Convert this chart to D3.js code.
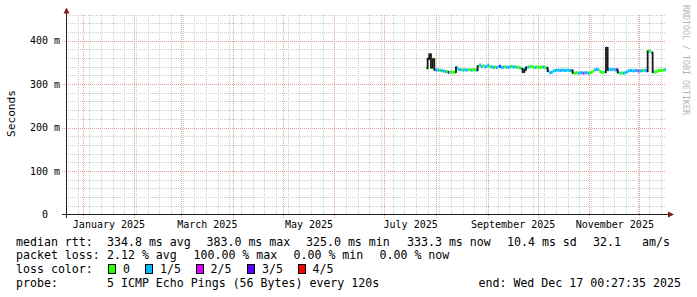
<!DOCTYPE html>
<html>
<head>
<meta charset="utf-8">
<script src="https://cdn.jsdelivr.net/npm/d3@7"></script>
<style>
body { margin: 0; background: #fff; }
text { font-family: "DejaVu Sans Mono", monospace; }
</style>
</head>
<body>
<script>
var w = 697, h = 297;

// time span of the graph
var endTime = new Date(Date.UTC(2025, 11, 17, 0, 27, 35));
var spanDays = 360;
var firstSample = "2025-07-26";

// daily median rtt (ms), one value per day from firstSample
var medianMs = [
	337, 358, 368, 338, 357, 333, 333, 332, 332, 331,
	330, 329, 329, 327, 328, 328, 327, 328, 338, 334,
	333, 333, 332, 333, 332, 333, 333, 332, 333, 333,
	332, 341, 344, 340, 342, 339, 341, 343, 339, 340,
	338, 339, 338, 340, 341, 338, 339, 340, 339, 338,
	340, 341, 339, 340, 338, 339, 337, 335, 328, 333,
	338, 339, 340, 341, 339, 338, 339, 339, 338, 339,
	339, 338, 337, 330, 326, 327, 330, 331, 332, 332,
	331, 332, 332, 331, 332, 332, 331, 331, 326, 325,
	326, 325, 326, 326, 325, 326, 326, 325, 326, 327,
	330, 333, 334, 333, 329, 327, 327, 328, 383, 333,
	334, 333, 334, 333, 333, 327, 325, 326, 325, 326,
	328, 330, 331, 331, 330, 331, 331, 330, 330, 331,
	331, 332, 330, 375, 376, 372, 328, 328, 329, 331,
	331, 332, 332, 333
];

// loss level per day (index into lossColors)
var lossIdx = [
	0, 1, 1, 0, 0, 1, 1, 1, 0, 1,
	1, 1, 0, 3, 0, 0, 0, 0, 1, 1,
	1, 0, 1, 1, 1, 0, 0, 1, 0, 0,
	1, 0, 1, 1, 0, 1, 1, 1, 0, 1,
	1, 0, 1, 1, 3, 1, 1, 0, 1, 1,
	1, 0, 1, 1, 0, 0, 1, 0, 0, 1,
	1, 1, 0, 0, 0, 1, 0, 0, 0, 0,
	1, 0, 1, 1, 1, 1, 1, 1, 1, 1,
	1, 1, 1, 1, 1, 1, 1, 1, 0, 0,
	0, 1, 1, 1, 2, 1, 1, 1, 0, 0,
	0, 1, 1, 1, 0, 0, 0, 1, 1, 1,
	1, 1, 1, 1, 2, 1, 0, 0, 1, 1,
	1, 1, 1, 1, 1, 1, 1, 2, 1, 1,
	0, 1, 1, 0, 0, 1, 1, 0, 0, 0,
	0, 0, 0, 1
];

var yTicks = [0, 100, 200, 300, 400];
var yTickLabels = ["0\u00a0\u00a0", "100 m", "200 m", "300 m", "400 m"];
var monthLabels = ["January 2025", "March 2025", "May 2025", "July 2025", "September 2025", "November 2025"];
var labelMonths = [0, 2, 4, 6, 8, 10];

var lossColors = ["#26ff00", "#00b8ff", "#dd00ff", "#5e00ff", "#ff0000"];
var lossNames = ["0", "1/5", "2/5", "3/5", "4/5"];

var rttStats = ["334.8 ms avg", "383.0 ms max", "325.0 ms min", "333.3 ms now", "10.4 ms sd", "32.1", "am/s"];
var lossStats = ["2.12 % avg", "100.00 % max", "0.00 % min", "0.00 % now"];
var probeText = "5 ICMP Echo Pings (56 Bytes) every 120s";
var endText = "end: Wed Dec 17 00:27:35 2025";

var svg = d3.select("body")
	.append("svg")
	.attr("width", w)
	.attr("height", h)
	.attr("viewBox", "0 0 " + w + " " + h);

svg.append("rect").attr("width", w).attr("height", h).attr("fill", "#fff");

var startTime = d3.utcDay.offset(endTime, -spanDays);
var x = d3.scaleUtc().domain([startTime, endTime]).range([66, 666]);
var y = d3.scaleLinear().domain([0, 460]).range([214.5, 14.5]);

// minor grid
var grid = svg.append("g").attr("shape-rendering", "crispEdges");
grid.selectAll(".vmin")
	.data(d3.utcSunday.range(startTime, endTime))
	.enter().append("line")
	.attr("x1", function(d){ return Math.round(x(d)) + 0.5; })
	.attr("x2", function(d){ return Math.round(x(d)) + 0.5; })
	.attr("y1", 14.5).attr("y2", 214.5)
	.attr("stroke", "#cfcfcf").attr("stroke-dasharray", "1,1");

grid.selectAll(".hmin")
	.data(d3.range(20, 461, 20).filter(function(v){ return v % 100 != 0; }))
	.enter().append("line")
	.attr("x1", 66).attr("x2", 666)
	.attr("y1", function(d){ return Math.round(y(d)) + 0.5; })
	.attr("y2", function(d){ return Math.round(y(d)) + 0.5; })
	.attr("stroke", "#cfcfcf").attr("stroke-dasharray", "1,1");

// major grid
grid.selectAll(".vmaj")
	.data(d3.utcMonth.range(startTime, endTime))
	.enter().append("line")
	.attr("x1", function(d){ return Math.round(x(d)) + 0.5; })
	.attr("x2", function(d){ return Math.round(x(d)) + 0.5; })
	.attr("y1", 14.5).attr("y2", 218)
	.attr("stroke", "#eb9a9a").attr("stroke-dasharray", "1,1");

grid.selectAll(".hmaj")
	.data(yTicks.slice(1))
	.enter().append("line")
	.attr("x1", 62).attr("x2", 666)
	.attr("y1", function(d){ return Math.round(y(d)) + 0.5; })
	.attr("y2", function(d){ return Math.round(y(d)) + 0.5; })
	.attr("stroke", "#eb9a9a").attr("stroke-dasharray", "1,1");

// median line, coloured by loss
var day0 = new Date(firstSample + "T00:00:00Z");
var pts = medianMs.map(function(v, i){
	return { t0: d3.utcDay.offset(day0, i), t1: d3.utcDay.offset(day0, i + 1), v: v, loss: lossIdx[i] };
});

svg.append("g").selectAll("line")
	.data(pts)
	.enter().append("line")
	.attr("x1", function(d){ return x(d.t0); })
	.attr("x2", function(d){ return x(d.t1); })
	.attr("y1", function(d){ return y(d.v); })
	.attr("y2", function(d){ return y(d.v); })
	.attr("stroke", function(d){ return lossColors[d.loss]; })
	.attr("stroke-width", 3);

// dark jumps between steps
var jumps = [];
pts.forEach(function(d, i){
	if (i > 0 && Math.abs(d.v - pts[i - 1].v) >= 5) jumps.push({ t: d.t0, a: pts[i - 1].v, b: d.v });
});

svg.append("g").selectAll("line")
	.data(jumps)
	.enter().append("line")
	.attr("x1", function(d){ return x(d.t); })
	.attr("x2", function(d){ return x(d.t); })
	.attr("y1", function(d){ return y(d.a) + (d.a < d.b ? 1 : -1); })
	.attr("y2", function(d){ return y(d.b) + (d.b < d.a ? 1 : -1); })
	.attr("stroke", "#1a1a1a")
	.attr("stroke-width", 1.8);

// axes
var yAxis = svg.append("g")
	.attr("transform", "translate(66,0)")
	.call(d3.axisLeft(y).tickValues(yTicks)
		.tickFormat(function(d, i){ return yTickLabels[i]; })
		.tickSize(0).tickPadding(6));
yAxis.select(".domain").remove();
yAxis.selectAll("text")
	.attr("font-family", "DejaVu Sans Mono")
	.attr("font-size", 10)
	.attr("fill", "#000");

var midMonths = labelMonths.map(function(m){
	var a = new Date(Date.UTC(2025, m, 1)), b = new Date(Date.UTC(2025, m + 1, 1));
	return new Date((a.getTime() + b.getTime()) / 2);
});
var xAxis = svg.append("g")
	.attr("transform", "translate(0,214.5)")
	.call(d3.axisBottom(x).tickValues(midMonths)
		.tickFormat(function(d, i){ return monthLabels[i]; })
		.tickSize(0).tickPadding(6));
xAxis.select(".domain").remove();
xAxis.selectAll("text")
	.attr("font-family", "DejaVu Sans Mono")
	.attr("font-size", 10)
	.attr("fill", "#000");

svg.append("line")
	.attr("x1", 62).attr("x2", 669).attr("y1", 214.5).attr("y2", 214.5)
	.attr("stroke", "#1f1f1f").attr("shape-rendering", "crispEdges");
svg.append("line")
	.attr("x1", 66.5).attr("x2", 66.5).attr("y1", 218).attr("y2", 11)
	.attr("stroke", "#1f1f1f").attr("shape-rendering", "crispEdges");
svg.append("path").attr("d", "M668,211.5L674,214.5L668,217.5Z").attr("fill", "#801f1f");
svg.append("path").attr("d", "M63.5,13.5L66.5,7.5L69.5,13.5Z").attr("fill", "#801f1f");

// titles
svg.append("text")
	.attr("transform", "translate(15,113.5) rotate(-90)")
	.attr("text-anchor", "middle")
	.attr("font-size", 11.2)
	.text("Seconds");

svg.append("text")
	.attr("transform", "translate(683,5) rotate(90)")
	.attr("font-size", 8.3)
	.attr("fill", "#b5b5b5")
	.text("RRDTOOL / TOBI OETIKER");

// legend
var legend = svg.append("g").attr("font-size", 11.6).attr("fill", "#000");
function put(xp, yp, s){ legend.append("text").attr("x", xp).attr("y", yp).text(s); }

put(16, 245.5, "median rtt:");
[107, 206.5, 306, 407, 507, 593, 642].forEach(function(xp, i){ put(xp, 245.5, rttStats[i]); });

put(16, 259, "packet loss:");
[107, 193.5, 293.5, 379.5].forEach(function(xp, i){ put(xp, 259, lossStats[i]); });

put(16, 273, "loss color:");
var boxX = [108.5, 145.5, 196.5, 247.5, 298.5];
var nameX = [123, 160, 210.5, 262, 312.5];
lossColors.forEach(function(c, i){
	legend.append("rect")
		.attr("x", boxX[i]).attr("y", 264.5).attr("width", 7).attr("height", 9)
		.attr("fill", c).attr("stroke", "#000").attr("stroke-width", 1);
	put(nameX[i], 273, lossNames[i]);
});

put(16, 286.5, "probe:");
put(107, 286.5, probeText);
put(478.5, 286.5, endText);
</script>
</body>
</html>
